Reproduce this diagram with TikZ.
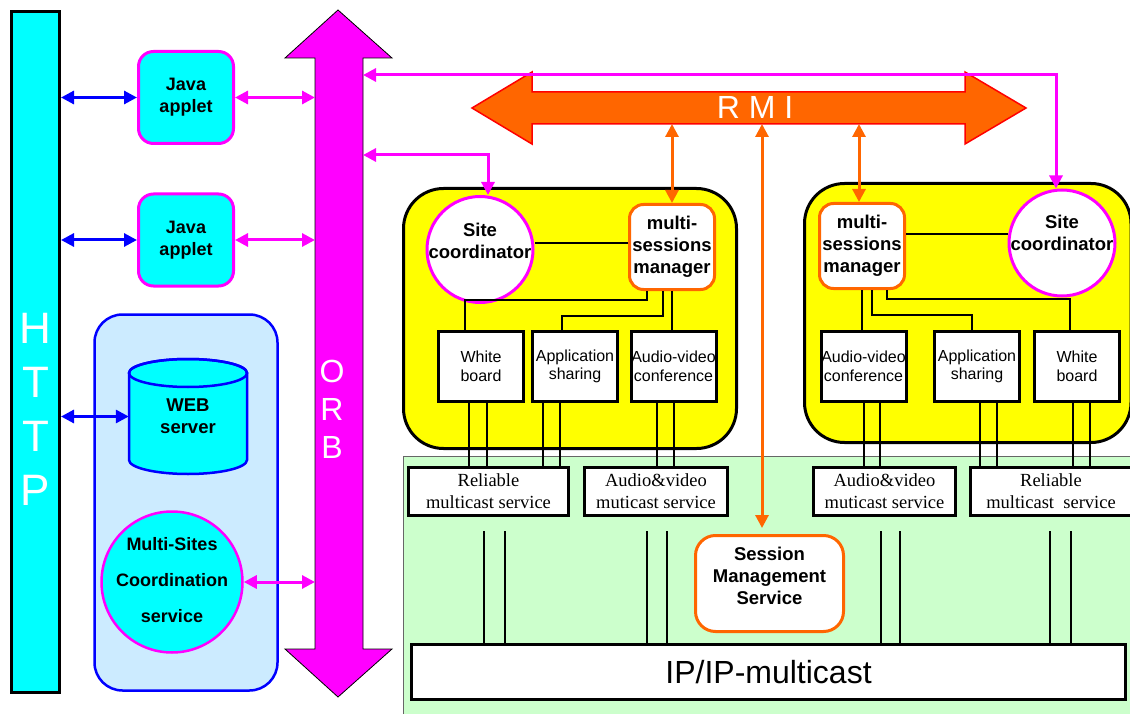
\documentclass[tikz,border=0pt]{standalone}
\usepackage{fontspec}
\setmainfont{Liberation Sans}
\newfontfamily\serviceserif{Liberation Serif}
\usetikzlibrary{arrows.meta}
\definecolor{appcyan}{RGB}{0,255,255}
\definecolor{orbmagenta}{RGB}{255,0,255}
\definecolor{siteyellow}{RGB}{255,255,0}
\definecolor{linkblue}{RGB}{0,0,255}
\definecolor{rmiorange}{RGB}{255,102,0}
\definecolor{rmired}{RGB}{255,0,0}
\definecolor{webblue}{RGB}{204,235,255}
\definecolor{netgreen}{RGB}{204,255,204}

\begin{document}
\begin{tikzpicture}[x=1pt,y=-1pt,>={Triangle[length=13pt,width=13pt]},
  applet/.style={draw=orbmagenta,fill=appcyan,line width=3pt,rounded corners=15pt,minimum width=95pt,minimum height=92pt,align=center,font=\fontsize{18}{22}\selectfont\bfseries},
  boldtext/.style={align=center,font=\fontsize{18.5}{22}\selectfont\bfseries},
  sitecirc/.style={circle,draw=orbmagenta,fill=white,line width=3pt,minimum size=106pt,inner sep=0pt},
  mgr/.style={draw=rmiorange,fill=white,line width=3pt,rounded corners=14pt,minimum width=85pt,minimum height=85pt,inner sep=1pt,boldtext},
  modbox/.style={draw,fill=white,line width=3pt,minimum width=85pt,minimum height=70pt,inner sep=0pt,align=center,font=\fontsize{16}{18.5}\selectfont},
  svcbox/.style={draw,fill=white,line width=3pt,minimum height=48pt,align=center,font=\serviceserif\fontsize{18.5}{22}\selectfont},
  sitebox/.style={draw,fill=siteyellow,line width=3pt,rounded corners=40pt},
  bluearr/.style={<->,linkblue,line width=3pt},
  pinkarr/.style={<->,orbmagenta,line width=3pt},
  orarr/.style={<->,rmiorange,line width=3pt},
  wire/.style={line width=2pt}]
  \useasboundingbox (0,0) rectangle (1130,714);

  % network area
  \draw[draw=black!60,fill=netgreen,line width=1pt] (403,456) rectangle (1140,720);

  % HTTP bar
  \node[draw,fill=appcyan,line width=3pt,minimum width=48pt,minimum height=681pt,inner sep=0pt] (http) at (35.5,352) {};
  \node[text=white,align=center,font=\fontsize{44}{54}\selectfont] (httptxt) at (35.5,409) {H\\T\\T\\P};

  % ORB
  \draw[fill=orbmagenta,line width=0.8pt] (338,10) -- (392,58) -- (363,58) -- (363,649) -- (392,649) -- (338,697)
    -- (285,649) -- (315,649) -- (315,58) -- (285,58) -- cycle;
  \node[minimum width=48pt,minimum height=591pt,inner sep=0pt,outer sep=0pt] (orb) at (339,353.5) {};
  \node[text=white,align=center,font=\fontsize{32}{38}\selectfont] (orbtxt) at (332,409) {O\\R\\B};

  % RMI
  \draw[fill=rmiorange,draw=rmired,line width=1.5pt] (472,108) -- (532,72) -- (532,92) -- (965,92) -- (965,72) -- (1026,108)
    -- (965,144) -- (965,124) -- (532,124) -- (532,144) -- cycle;
  \node[minimum width=433pt,minimum height=32pt,inner sep=0pt,outer sep=0pt] (rmi) at (748.5,108) {};
  \node[text=white,font=\fontsize{32}{38}\selectfont] (rmitxt) at (755,107) {R M I};

  % web side
  \draw[draw=linkblue,fill=webblue,line width=2.5pt,rounded corners=28pt] (94.5,314.5) rectangle (277.5,690.5);
  \node[applet] (ja1) at (186,97.5) {Java\\applet};
  \node[applet] (ja2) at (186,240) {Java\\applet};
  \draw[draw=linkblue,fill=appcyan,line width=2.5pt] (129,373) -- (129,460) arc[start angle=180,end angle=0,x radius=59,y radius=14]
    -- (247,373) arc[start angle=0,end angle=-180,x radius=59,y radius=14] -- cycle;
  \draw[draw=linkblue,line width=2.5pt] (188,373) ellipse[x radius=59,y radius=14];
  \node[minimum width=118pt,minimum height=115pt,inner sep=0pt,boldtext] (web) at (188,416.5) {WEB\\server};
  \node[circle,draw=orbmagenta,fill=appcyan,line width=2.5pt,minimum size=141pt,inner sep=0pt] (msc) at (172,582) {};
  \node[align=center,font=\fontsize{18}{36}\selectfont\bfseries] (msctxt) at (172,580) {Multi-Sites\\Coordination\\service};

  % sites
  \draw[sitebox] (403.5,188.5) rectangle (736.5,448.5);
  \draw[sitebox] (804.5,183.5) rectangle (1131,442.5);
  \node[sitecirc] (sc1) at (480,249.5) {};
  \node[boldtext] (sc1txt) at (480,241) {Site\\coordinator};
  \node[sitecirc] (sc2) at (1062,243) {};
  \node[boldtext] (sc2txt) at (1062,233) {Site\\coordinator};
  \node[mgr] (msm1) at (672,247) {multi-\\sessions\\manager};
  \node[mgr] (msm2) at (862,246) {multi-\\sessions\\manager};
  \node[modbox] (wb1) at (481,366.5) {White\\board};
  \node[modbox] (as1) at (575,366.5) {Application\\sharing};
  \node[modbox] (av1) at (673.5,366.5) {Audio-video\\conference};
  \node[modbox] (av2) at (863.5,366.5) {Audio-video\\conference};
  \node[modbox] (as2) at (977,366.5) {Application\\sharing};
  \node[modbox] (wb2) at (1077,366.5) {White\\board};

  % manager to modules
  \draw[wire] ([yshift=4pt]msm1.west) coordinate (t) -- (t -| sc1.east);
  \draw[wire] ([yshift=12pt]msm2.east) coordinate (t) -- (t -| sc2.west);
  \draw[wire] ([xshift=-25pt]msm1.south) -- ++(0,9) -| ([xshift=-16pt]wb1.north);
  \draw[wire] ([xshift=-9pt]msm1.south) -- ++(0,25) -| ([xshift=-13pt]as1.north);
  \draw[wire] (msm1.south) -- (msm1.south |- av1.north);
  \draw[wire] (msm2.south) -- (msm2.south |- av2.north);
  \draw[wire] ([xshift=10pt]msm2.south) -- ++(0,25) -| ([xshift=-5pt]as2.north);
  \draw[wire] ([xshift=25pt]msm2.south) -- ++(0,9) -| ([xshift=-7pt]wb2.north);

  % services
  \node[svcbox,minimum width=160pt] (rel1) at (488.5,491.5) {Reliable\\multicast service};
  \node[svcbox,minimum width=143pt] (avs1) at (656,491.5) {Audio\&video\\muticast service};
  \node[svcbox,minimum width=142pt] (avs2) at (884.5,491.5) {Audio\&video\\muticast service};
  \node[svcbox,minimum width=161pt] (rel2) at (1051,491.5) {Reliable\\multicast\ \ service};
  \node[draw,fill=white,line width=3pt,minimum width=714pt,minimum height=55pt,font=\fontsize{32}{38}\selectfont] (ip) at (768.5,672) {IP/IP-multicast};
  \node[draw=rmiorange,fill=white,line width=3pt,rounded corners=20pt,minimum width=148pt,minimum height=96pt] (sms) at (769.5,583.5) {};
  \node[boldtext] (smstxt) at (769.5,576) {Session\\Management\\Service};

  % module to service wires
  \foreach \m/\s/\a/\b in {wb1/rel1/-12pt/6pt, as1/rel1/-32pt/-15pt, av1/avs1/-16.5pt/0pt, av2/avs2/0pt/16pt, as2/rel2/3pt/20pt, wb2/rel2/-4pt/13pt} {
    \draw[wire] ([xshift=\a]\m.south) coordinate (t) -- (t |- \s.north);
    \draw[wire] ([xshift=\b]\m.south) coordinate (t) -- (t |- \s.north);
  }
  % service to IP wires
  \foreach \s/\a in {rel1/-4.5pt, rel1/16.5pt, avs1/-9pt, avs1/11pt, avs2/-3.5pt, avs2/15.5pt, rel2/-1pt, rel2/20pt}
    \draw[wire] ([xshift=\a,yshift=-14pt]\s.south) coordinate (t) -- (t |- ip.north);

  % arrows
  \draw[bluearr] (http.east |- ja1) -- (ja1.west);
  \draw[bluearr] (http.east |- ja2) -- (ja2.west);
  \draw[bluearr] (http.east |- web) -- (web.west);
  \draw[pinkarr] (ja1.east) -- (ja1.east -| orb.west);
  \draw[pinkarr] (ja2.east) -- (ja2.east -| orb.west);
  \draw[pinkarr] (msc.east) -- (msc.east -| orb.west);
  \coordinate (topbus) at (700,75);
  \coordinate (midbus) at (420,155);
  \draw[pinkarr] (orb.east |- topbus) -| ([xshift=-6pt]sc2.north);
  \draw[pinkarr] (orb.east |- midbus) -| ([xshift=8pt]sc1.north);
  \draw[orarr] (msm1.north |- rmi.south) -- (msm1.north);
  \draw[orarr] ([xshift=-3pt]msm2.north) coordinate (t) -- (t |- rmi.south);
  \draw[orarr] ([xshift=-7.5pt,yshift=6pt]sms.north) coordinate (t) -- (t |- rmi.south);
\end{tikzpicture}
\end{document}
